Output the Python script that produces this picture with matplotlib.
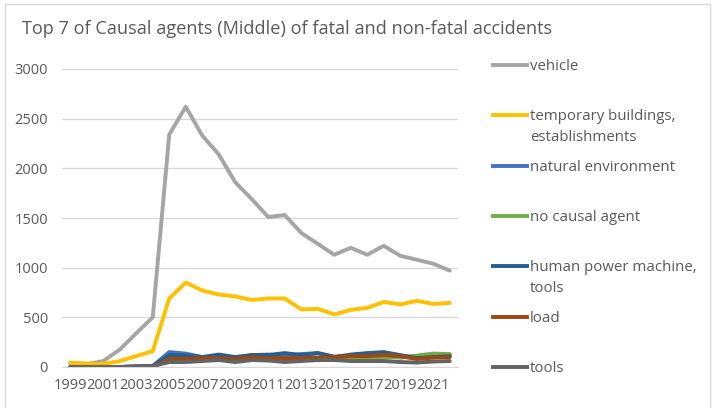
import matplotlib.pyplot as plt
from matplotlib.lines import Line2D
from matplotlib.patches import Rectangle

plt.rcParams['font.family'] = ['Open Sans', 'DejaVu Sans']

years = list(range(1999, 2023))
labels = ['vehicle', 'temporary buildings,\nestablishments', 'natural environment',
          'no causal agent', 'human power machine,\ntools', 'load', 'tools']
colors = ['#A5A5A5', '#FFC000', '#4472C4', '#70AD47', '#255E91', '#9E480E', '#636363']

vehicle = [40, 30, 60, 175, 340, 500, 2340, 2620, 2330, 2140, 1860, 1690,
           1510, 1530, 1350, 1240, 1130, 1200, 1130, 1220, 1120, 1080, 1040, 970]
temporary = [45, 35, 30, 60, 110, 160, 690, 850, 770, 730, 710, 675,
             690, 690, 580, 585, 530, 575, 595, 655, 630, 665, 635, 645]
natural = [0, 0, 0, 0, 5, 10, 150, 135, 100, 110, 95, 120,
           125, 115, 130, 140, 105, 110, 120, 110, 95, 105, 120, 120]
no_causal = [0, 0, 0, 0, 5, 10, 80, 80, 90, 90, 80, 90,
             90, 80, 90, 90, 85, 80, 90, 95, 100, 115, 135, 130]
human_power = [0, 0, 0, 0, 5, 10, 120, 115, 100, 125, 100, 120,
               120, 140, 120, 140, 100, 125, 140, 150, 120, 90, 100, 110]
load = [0, 0, 0, 0, 0, 0, 80, 80, 90, 90, 80, 100,
        90, 90, 90, 95, 100, 110, 110, 120, 110, 80, 95, 100]
tools = [0, 0, 0, 0, 5, 10, 50, 50, 60, 70, 50, 70,
         65, 50, 60, 70, 70, 60, 60, 60, 50, 45, 55, 60]

series = [vehicle, temporary, natural, no_causal, human_power, load, tools]
text_col = '#595959'

fig = plt.figure(figsize=(7.13, 4.08), dpi=100)
ax = fig.add_axes([62 / 713, 1 - 367 / 408, 396 / 713, 298 / 408])

x = list(range(len(years)))
for vals, c in zip(series, colors):
    ax.plot(x, vals, color=c, lw=2.8, solid_joinstyle='round', solid_capstyle='round')

ax.set_xlim(-0.5, len(years) - 0.5)
ax.set_ylim(0, 3000)
ax.set_yticks(range(0, 3001, 500))
ax.set_xticks(x[::2])
ax.set_xticklabels([str(y) for y in years[::2]])
ax.tick_params(length=0, colors=text_col, labelsize=10.5)
ax.tick_params(axis='y', pad=10)
ax.tick_params(axis='x', pad=8)
ax.grid(axis='y', color='#D9D9D9', lw=1)
ax.set_axisbelow(True)
for s in ['top', 'right', 'left']:
    ax.spines[s].set_visible(False)
ax.spines['bottom'].set_color('#D9D9D9')

fig.text(22 / 713, 1 - 29 / 408, 'Top 7 of Causal agents (Middle) of fatal and non-fatal accidents',
         fontsize=13.1, color=text_col, va='center', ha='left')

# legend, one slot per gridline
for i, (lab, c) in enumerate(zip(labels, colors)):
    y = 1 - (65 + i * 50.3) / 408
    fig.add_artist(Line2D([493 / 713, 527 / 713], [y, y], color=c, lw=2.8))
    fig.text(530 / 713, y + 6 / 408, lab, fontsize=10.8, color=text_col,
             va='top', ha='left', linespacing=1.5)

fig.add_artist(Rectangle((5 / 713, -0.05), 705 / 713, 1.04, transform=fig.transFigure,
                         fill=False, edgecolor='#D9D9D9', lw=1))

fig.savefig('out.png', dpi=100)
